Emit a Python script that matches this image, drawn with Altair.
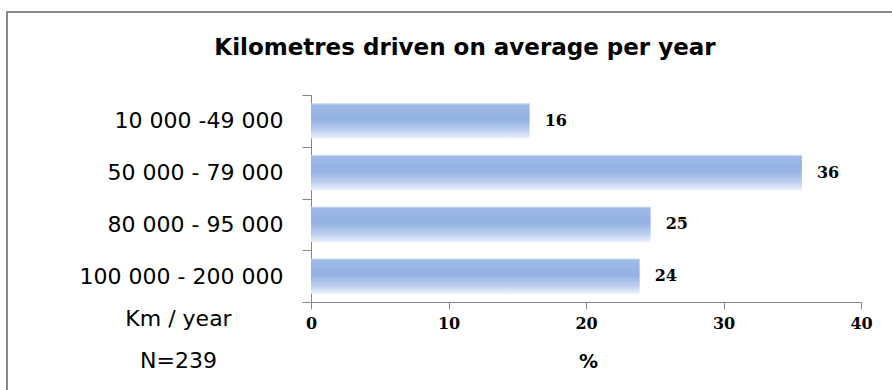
import altair as alt
import pandas as pd

categories = ["10 000 -49 000", "50 000 - 79 000", "80 000 - 95 000", "100 000 - 200 000"]
percent = [15.9, 35.7, 24.7, 23.9]
x_ticks = [0, 10, 20, 30, 40]
title_text = "Kilometres driven on average per year"
y_title = ["Km / year", "N=239"]
x_title = "%"

df = pd.DataFrame({"range": categories, "pct": percent})
one = pd.DataFrame({"k": [0]})

W, H = 550, 207
AXIS = "#868686"

gradient = alt.Gradient(
    gradient="linear",
    stops=[
        alt.GradientStop(color="#c6d6f1", offset=0),
        alt.GradientStop(color="#9db8e5", offset=0.06),
        alt.GradientStop(color="#94b1e2", offset=0.45),
        alt.GradientStop(color="#b9ccee", offset=0.75),
        alt.GradientStop(color="#eaf0fa", offset=1),
    ],
    x1=0, x2=0, y1=0, y2=1,
)

y_enc = alt.Y(
    "range:N",
    sort=categories,
    scale=alt.Scale(paddingInner=0, paddingOuter=0),
    axis=alt.Axis(
        title=y_title, titleAngle=0, titleX=-133, titleY=230,
        titleAlign="center", titleBaseline="alphabetic",
        titleFont="DejaVu Sans", titleFontSize=22, titleFontWeight="normal",
        titleLineHeight=42, titleColor="black",
        labelFont="DejaVu Sans", labelFontSize=22, labelColor="black",
        labelPadding=19, labelLimit=400, tickSize=9, tickBand="extent",
        domainColor=AXIS, tickColor=AXIS, grid=False,
    ),
)

x_enc = alt.X(
    "pct:Q",
    scale=alt.Scale(domain=[0, 40], nice=False),
    axis=alt.Axis(
        values=x_ticks, title=x_title,
        titleFont="DejaVu Sans", titleFontSize=19, titleFontWeight="bold",
        titleX=277, titleY=65, titleAlign="center", titleBaseline="alphabetic",
        titleColor="black",
        labelFont="DejaVu Serif", labelFontWeight="bold", labelFontSize=16,
        labelColor="black", tickSize=7, labelPadding=6, labelFlush=False,
        labelAngle=0, domainColor=AXIS, tickColor=AXIS, grid=False,
    ),
)

border = alt.Chart(one).mark_rect(fillOpacity=0, stroke="#888888", strokeWidth=2).encode(
    x=alt.value(-304), x2=alt.value(640), y=alt.value(-83), y2=alt.value(340)
)

bars = alt.Chart(df).mark_bar(height=alt.RelativeBandSize(0.68), color=gradient).encode(
    x=x_enc, y=y_enc
)

labels = alt.Chart(df).mark_text(
    align="left", baseline="middle", dx=15,
    font="DejaVu Serif", fontWeight="bold", fontSize=16, color="black",
).encode(
    x="pct:Q", y=alt.Y("range:N", sort=categories),
    text=alt.Text("pct:Q", format=".0f"),
)

title = alt.Chart(one).mark_text(
    align="center", baseline="alphabetic",
    font="DejaVu Sans", fontWeight="bold", fontSize=23, color="black",
).encode(x=alt.value(154), y=alt.value(-40), text=alt.value(title_text))

chart = alt.layer(border, bars, labels, title).properties(
    width=W, height=H,
    padding={"left": 311, "top": 95, "right": 31, "bottom": 88},
    autosize=alt.AutoSizeParams(type="none"),
).configure_view(stroke=None)

chart.save("out.html", embed_options={"renderer": "svg", "actions": False})
